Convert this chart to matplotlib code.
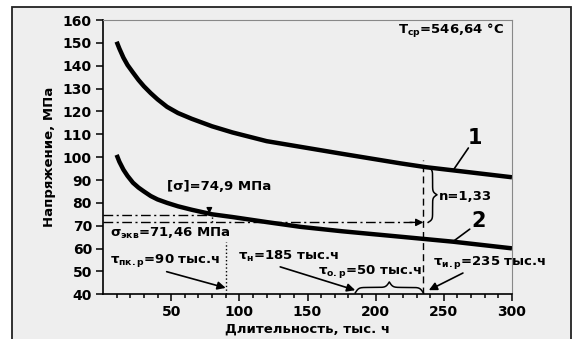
import numpy as np
import matplotlib
matplotlib.use("Agg")
import matplotlib.pyplot as plt
from matplotlib.patches import Rectangle

# curve 1 and curve 2 (тыс. ч -> МПа)
dur1 = [10, 12, 15, 18, 22, 26, 30, 35, 40, 47, 55, 65, 80, 95, 120, 145, 175, 218, 237, 260, 300]
sig1 = [150.5, 147.5, 143.5, 140.3, 137, 133.8, 131, 128, 125.3, 122, 119.3, 116.8, 113.5, 110.8,
        107, 104.5, 101.5, 97.3, 95.6, 94, 91.2]
dur2 = [10, 12, 15, 18, 22, 26, 30, 35, 40, 47, 55, 65, 80, 95, 120, 145, 175, 218, 257, 300]
sig2 = [101, 98, 94.5, 91.8, 88.8, 86.7, 85, 83, 81.5, 80, 78.5, 77, 75, 73.8, 71.6, 69.5,
        67.6, 65.2, 63, 60.1]

sig_allow = 74.9     # [σ]
sig_eq = 71.46       # σ экв
tau_pkr = 90
tau_n = 185
tau_ir = 235
sig1_at_ir = 95.6

plt.rcParams['font.family'] = ['DejaVu Sans']
plt.rcParams['font.weight'] = 'bold'
fs = 9.5

fig = plt.figure(figsize=(5.78, 3.39), dpi=100)
fig.patch.set_facecolor('white')
fig.add_artist(Rectangle((12/578, -0.05), (571-12)/578, 1.05 - 7/339,
                         transform=fig.transFigure, facecolor='#eeeeee',
                         edgecolor='#222222', lw=1.3, zorder=-10))

ax = fig.add_axes([103/578, 1-294.3/339, (512-103)/578, (294.3-20)/339])
ax.set_facecolor('#eeeeee')
for s in ['top', 'right']:
    ax.spines[s].set_color('#888888')
for s in ['left', 'bottom']:
    ax.spines[s].set_linewidth(1.2)

ax.plot(dur1, sig1, color='k', lw=3.2, solid_capstyle='butt', solid_joinstyle='round')
ax.plot(dur2, sig2, color='k', lw=3.2, solid_capstyle='butt', solid_joinstyle='round')

ax.set_xlim(0, 300)
ax.set_ylim(40, 160)
ax.set_xticks(np.arange(50, 301, 50))
ax.set_xticks(np.arange(10, 300, 10), minor=True)
ax.set_yticks(np.arange(40, 161, 10))
ax.tick_params(axis='both', which='major', labelsize=10, length=5, width=1.1, pad=3)
ax.tick_params(axis='x', which='minor', length=3, width=1.1)
for lab in ax.get_xticklabels() + ax.get_yticklabels():
    lab.set_fontweight('bold')

ax.set_xlabel("Длительность, тыс. ч", fontsize=fs, fontweight='bold', labelpad=2)
ax.set_ylabel("Напряжение, МПа", fontsize=fs, fontweight='bold', labelpad=5)

# dash-dot guide lines
dd = (0, (7, 2.5, 1.5, 2.5))
ax.plot([0, 78], [sig_allow, sig_allow], color='k', lw=1, ls=dd)
ax.plot([0, tau_ir - 8], [sig_eq, sig_eq], color='k', lw=1, ls=dd)
ax.annotate("", xy=(tau_ir, sig_eq), xytext=(tau_ir - 10, sig_eq),
            arrowprops=dict(arrowstyle='-|>', color='k', lw=1, mutation_scale=11,
                            shrinkA=0, shrinkB=0))
ax.plot([80, 80], [sig_eq, sig_allow], color='k', lw=1, ls=':')
ax.annotate("", xy=(78, sig_allow + 0.4), xytext=(78, sig_allow + 2.5),
            arrowprops=dict(arrowstyle='-|>', color='k', lw=1, mutation_scale=8,
                            shrinkA=0, shrinkB=0))

# vertical markers
ax.plot([tau_pkr, tau_pkr], [40, 63], color='k', lw=1, ls=':')
ax.plot([tau_ir, tau_ir], [40, 98.8], color='k', lw=1, ls=(0, (5, 3)))


def brace(ax, a, b, base, depth, vertical=False, beta=40):
    t = np.linspace(0, 1, 201)
    th = t[:101]
    h = 1/(1+np.exp(-beta*th)) + 1/(1+np.exp(-beta*(th-0.5)))
    h = np.concatenate([h, h[-2::-1]]) - 0.5
    along = a + (b - a)*t
    off = base + depth*h
    if vertical:
        ax.plot(off, along, color='k', lw=1.1)
    else:
        ax.plot(along, off, color='k', lw=1.1)


brace(ax, sig_eq, sig1_at_ir, 238.5, 6.5, vertical=True)
brace(ax, tau_n, tau_ir, 40.6, 4.8)

arrow = dict(arrowstyle='-|>', color='k', lw=1.2, mutation_scale=12, shrinkA=0, shrinkB=0)
ax.annotate("", xy=(tau_pkr, 42.8), xytext=(46.7, 49.9), arrowprops=arrow)
ax.annotate("", xy=(tau_n, 41.8), xytext=(130, 52), arrowprops=arrow)
ax.annotate("", xy=(tau_ir + 4, 41.8), xytext=(264, 49.3), arrowprops=arrow)

line = dict(arrowstyle='-', color='k', lw=1.2, shrinkA=0, shrinkB=0)
ax.annotate("", xy=(257, 94.4), xytext=(268, 104), arrowprops=line)
ax.annotate("", xy=(257, 63.2), xytext=(269, 68.5), arrowprops=line)
ax.text(273, 108.5, "1", fontsize=15, fontweight='bold', ha='center', va='center')
ax.text(275.5, 72, "2", fontsize=15, fontweight='bold', ha='center', va='center')

kw = dict(fontsize=fs, fontweight='bold', va='center')
ax.text(46.7, 87, "[σ]=74,9 МПа", **kw)
ax.text(5, 66.7, r"σ$_{\mathbf{экв}}$=71,46 МПа", **kw)
ax.text(5, 55, r"τ$_{\mathbf{пк.р}}$=90 тыс.ч", **kw)
ax.text(99, 56.5, r"τ$_{\mathbf{н}}$=185 тыс.ч", **kw)
ax.text(158, 50, r"τ$_{\mathbf{о.р}}$=50 тыс.ч", **kw)
ax.text(242, 54, r"τ$_{\mathbf{и.р}}$=235 тыс.ч", clip_on=False, **kw)
ax.text(246, 83, "n=1,33", **kw)
ax.text(294, 155, r"T$_{\mathbf{ср}}$=546,64 °C", ha='right', fontsize=fs,
        fontweight='bold', va='center')

fig.savefig("out.png", dpi=100)
